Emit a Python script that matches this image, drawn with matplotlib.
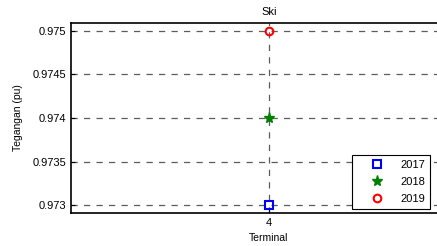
import matplotlib
matplotlib.use("Agg")
import matplotlib.pyplot as plt

terminal = [4]
years = ["2017", "2018", "2019"]
v2017 = [0.973]
v2018 = [0.974]
v2019 = [0.975]
yticks = [0.973, 0.9735, 0.974, 0.9745, 0.975]
ytick_labels = ["0.973", "0.9735", "0.974", "0.9745", "0.975"]

plt.rcParams['font.family'] = ['Liberation Sans', 'DejaVu Sans']
fig = plt.figure(figsize=(4.37, 2.46), dpi=100)
ax = fig.add_axes([71/437, 1-213/246, (467-71)/437, (213-23)/246])

ax.plot(terminal, v2017, linestyle='none', marker='s', markersize=5.5, markerfacecolor='none',
        markeredgecolor='blue', markeredgewidth=1.5, label=years[0], zorder=5)
ax.plot(terminal, v2018, linestyle='none', marker='*', markersize=8, markerfacecolor='green',
        markeredgecolor='green', label=years[1], zorder=5)
ax.plot(terminal, v2019, linestyle='none', marker='o', markersize=5.5, markerfacecolor='none',
        markeredgecolor='red', markeredgewidth=1.5, label=years[2], zorder=5)

ax.set_xlim(3, 5)
ax.set_ylim(0.97291, 0.97509)
ax.set_xticks(terminal)
ax.set_xticklabels([str(t) for t in terminal])
ax.set_yticks(yticks)
ax.set_yticklabels(ytick_labels)
ax.grid(True, linestyle=(0, (5, 5)), color='#333333', linewidth=0.9, alpha=0.8)
ax.tick_params(labelsize=8, direction='in', length=3, width=0.8)
for s in ax.spines.values():
    s.set_linewidth(1.2)

ax.set_title("Ski", fontsize=8, pad=6)
ax.set_xlabel("Terminal", fontsize=7.5, labelpad=4)
ax.set_ylabel("Tegangan (pu)", fontsize=7.5, labelpad=7)

leg = ax.legend(loc='lower right', bbox_to_anchor=((430-71)/396, 4/190), fontsize=8,
                fancybox=False, framealpha=1, edgecolor='black', borderpad=0.45,
                borderaxespad=0, labelspacing=0.62, handlelength=3.6, handletextpad=0.3,
                markerfirst=True)
leg.get_frame().set_linewidth(0.8)

fig.savefig("out.png", dpi=100)
